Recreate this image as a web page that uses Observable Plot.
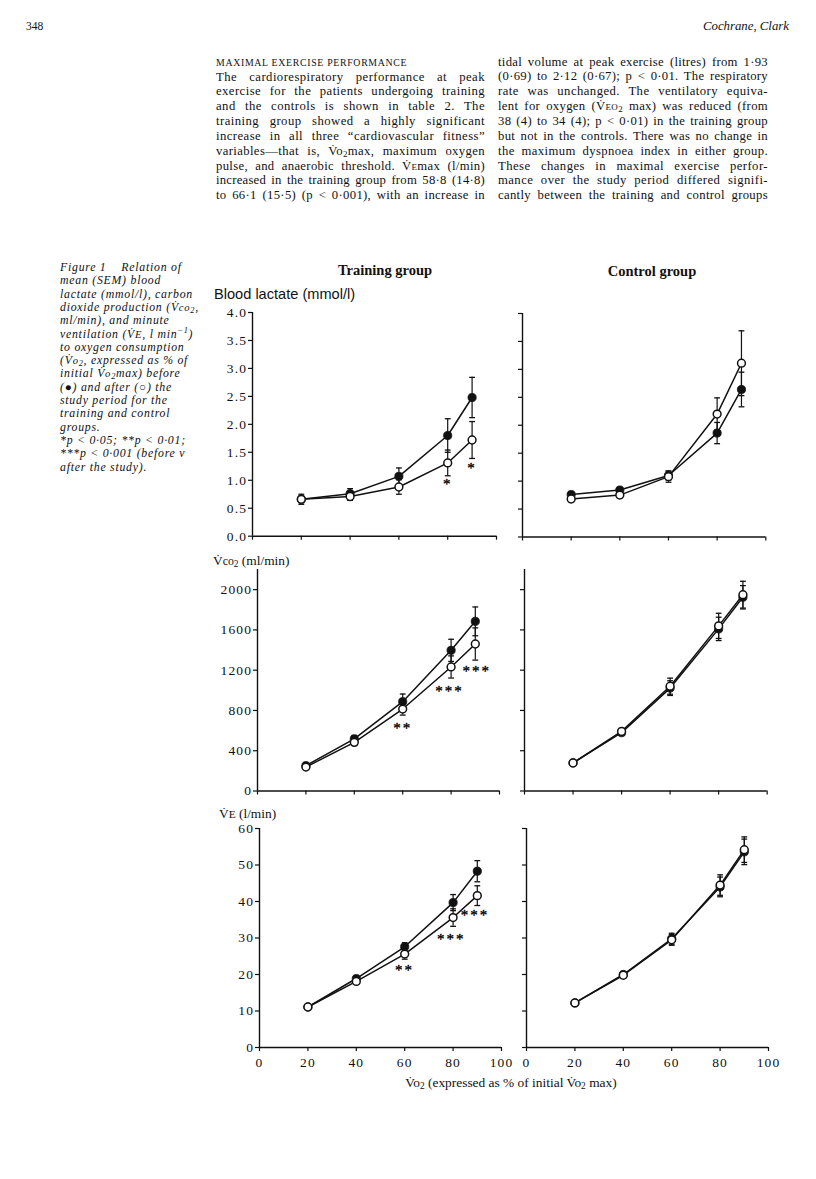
<!DOCTYPE html>
<html><head><meta charset="utf-8">
<script src="https://cdn.jsdelivr.net/npm/d3@7"></script>
<script src="https://cdn.jsdelivr.net/npm/@observablehq/plot@0.6"></script>
<style>
body{margin:0;background:#fff}
#page{position:relative;width:816px;height:1179px;background:#fff;overflow:hidden;font-family:"Liberation Serif","Times New Roman",serif;color:#111}
.abs{position:absolute;white-space:nowrap;line-height:1}
.line{position:absolute;white-space:nowrap;font-size:12.7px;line-height:1}
.sub{font-size:70%;vertical-align:-0.25em;line-height:0}
.cap{position:absolute;font-style:italic;font-size:11.8px;letter-spacing:0.75px;white-space:nowrap;line-height:1}
.sym{font-style:normal}
.sc{font-variant:small-caps}
svg.panel{position:absolute;overflow:visible}
svg.panel g[aria-label$="tick label"] text{letter-spacing:1.1px}
</style></head>
<body><div id="page"></div>
<script>
// ---------------- data ----------------
const xs = [20, 40, 60, 80, 90];
const xTicks = [0, 20, 40, 60, 80, 100];
const lacTicks = [0, 0.5, 1, 1.5, 2, 2.5, 3, 3.5, 4];
const vco2Ticks = [0, 400, 800, 1200, 1600, 2000];
const veTicks = [0, 10, 20, 30, 40, 50, 60];

// Blood lactate (mmol/l)
const lacTrainBefore = [0.66, 0.76, 1.07, 1.80, 2.48];
const lacTrainBeforeSem = [0.09, 0.09, 0.15, 0.30, 0.36];
const lacTrainAfter = [0.66, 0.71, 0.88, 1.31, 1.72];
const lacTrainAfterSem = [0.06, 0.07, 0.13, 0.23, 0.33];
const lacCtrlBefore = [0.76, 0.84, 1.10, 1.86, 2.64];
const lacCtrlBeforeSem = [0.05, 0.05, 0.08, 0.19, 0.31];
const lacCtrlAfter = [0.68, 0.75, 1.08, 2.20, 3.11];
const lacCtrlAfterSem = [0.05, 0.05, 0.10, 0.29, 0.58];
const lacTrainStars = [{x: 80, y: 1.0, t: "*"}, {x: 90, y: 1.29, t: "*"}];

// VCO2 (ml/min)
const vco2TrainBefore = [252, 517, 887, 1397, 1685];
const vco2TrainBeforeSem = [20, 35, 76, 110, 143];
const vco2TrainAfter = [238, 483, 814, 1232, 1460];
const vco2TrainAfterSem = [18, 30, 60, 110, 160];
const vco2CtrlBefore = [280, 579, 1022, 1610, 1924];
const vco2CtrlBeforeSem = [15, 25, 73, 116, 116];
const vco2CtrlAfter = [278, 592, 1041, 1640, 1950];
const vco2CtrlAfterSem = [15, 25, 80, 125, 133];
const vco2TrainStars = [{x: 60, y: 662, t: "**"}, {x: 79.3, y: 1033, t: "***"}, {x: 90.6, y: 1225, t: "***"}];

// VE (l/min)
const veTrainBefore = [11.1, 18.9, 27.6, 39.7, 48.3];
const veTrainBeforeSem = [0.4, 0.6, 1.1, 2.2, 2.9];
const veTrainAfter = [11.1, 18.1, 25.6, 35.6, 41.6];
const veTrainAfterSem = [0.4, 0.6, 1.4, 2.4, 2.7];
const veCtrlBefore = [12.2, 20.0, 29.8, 44.0, 53.6];
const veCtrlBeforeSem = [0.4, 0.8, 1.5, 2.7, 3.5];
const veCtrlAfter = [12.2, 19.8, 29.5, 44.5, 54.2];
const veCtrlAfterSem = [0.4, 0.8, 1.5, 2.8, 3.5];
const veTrainStars = [{x: 59.9, y: 22.4, t: "**"}, {x: 79.2, y: 30.9, t: "***"}, {x: 89.0, y: 37.3, t: "***"}];

// ---------------- text ----------------
const V = 'V&#775;';
const leftCol = [
  `The cardiorespiratory performance at peak`,
  `exercise for the patients undergoing training`,
  `and the controls is shown in table 2. The`,
  `training group showed a highly significant`,
  `increase in all three “cardiovascular fitness”`,
  `variables—that is, ${V}o<span class="sub">2</span>max, maximum oxygen`,
  `pulse, and anaerobic threshold. ${V}<span class="sc">e</span>max (l/min)`,
  `increased in the training group from 58·8 (14·8)`,
  `to 66·1 (15·5) (p &lt; 0·001), with an increase in`
];
const rightCol = [
  `tidal volume at peak exercise (litres) from 1·93`,
  `(0·69) to 2·12 (0·67); p &lt; 0·01. The respiratory`,
  `rate was unchanged. The ventilatory equiva-`,
  `lent for oxygen (${V}<span class="sc">eo</span><span class="sub">2</span> max) was reduced (from`,
  `38 (4) to 34 (4); p &lt; 0·01) in the training group`,
  `but not in the controls. There was no change in`,
  `the maximum dyspnoea index in either group.`,
  `These changes in maximal exercise perfor-`,
  `mance over the study period differed signifi-`,
  `cantly between the training and control groups`
];
const captionLines = [
  `Figure 1&nbsp;&nbsp;&nbsp; Relation of`,
  `mean (SEM) blood`,
  `lactate (mmol/l), carbon`,
  `dioxide production (${V}<span style="font-size:90%">co</span><span class="sub">2</span>,`,
  `ml/min), and minute`,
  `ventilation (${V}<span style="font-size:90%">E</span>, l min<sup style="font-size:70%;line-height:0">−1</sup>)`,
  `to oxygen consumption`,
  `(${V}<span style="font-size:90%">o</span><span class="sub">2</span>, expressed as % of`,
  `initial ${V}<span style="font-size:90%">o</span><span class="sub">2</span>max) before`,
  `(<span class="sym">●</span>) and after (<span class="sym">○</span>) the`,
  `study period for the`,
  `training and control`,
  `groups.`,
  `*p &lt; 0·05; **p &lt; 0·01;`,
  `***p &lt; 0·001 (before v`,
  `after the study).`
];

const page = document.getElementById('page');
function addDiv(html, cls, left, top, extra) {
  const d = document.createElement('div');
  d.className = cls; d.innerHTML = html;
  d.style.left = left + 'px'; d.style.top = top + 'px';
  if (extra) Object.assign(d.style, extra);
  page.appendChild(d); return d;
}
function justify(d, w) {
  const nat = d.getBoundingClientRect().width;
  const txt = d.textContent;
  const n = (txt.match(/ /g) || []).length;
  const extra = w - nat;
  if (extra > 0) {
    const ls = Math.min(0.45, extra * 0.45 / txt.length);
    d.style.letterSpacing = ls + 'px';
    const nat2 = d.getBoundingClientRect().width;
    if (n > 0) d.style.wordSpacing = ((w - nat2) / n) + 'px';
  } else if (n > 0) {
    d.style.wordSpacing = (extra / n) + 'px';
  }
}

// header
addDiv('348', 'abs', 26, 21, {fontSize: '11.5px'});
const hdr = addDiv('Cochrane, Clark', 'abs', 0, 20, {fontSize: '12.8px', fontStyle: 'italic'});
hdr.style.left = (789 - hdr.getBoundingClientRect().width) + 'px';

// body text
addDiv('MAXIMAL EXERCISE PERFORMANCE', 'abs', 216, 58, {fontSize: '9.8px', letterSpacing: '0.7px'});
leftCol.forEach((t, i) => { const d = addDiv(t, 'line', 216, 70.5 + i * 14.85); justify(d, 269); });
rightCol.forEach((t, i) => { const d = addDiv(t, 'line', 498, 55.6 + i * 14.85); justify(d, 270); });

// caption
captionLines.forEach((t, i) => addDiv(t, 'cap', 60, 262 + i * 13.3));

// figure headings and axis titles
const h1 = addDiv('Training group', 'abs', 0, 263, {fontSize: '14.5px', fontWeight: 'bold'});
h1.style.left = (385 - h1.getBoundingClientRect().width / 2) + 'px';
const h2 = addDiv('Control group', 'abs', 0, 263.5, {fontSize: '14.5px', fontWeight: 'bold'});
h2.style.left = (652 - h2.getBoundingClientRect().width / 2) + 'px';
addDiv('Blood lactate (mmol/l)', 'abs', 214, 287, {fontSize: '14.6px', fontFamily: '"Liberation Sans", Arial, sans-serif'});
addDiv(`${V}<span style="font-size:88%">co</span><span class="sub">2</span> (ml/min)`, 'abs', 213, 554, {fontSize: '13.4px'});
addDiv(`${V}<span style="font-size:85%">E</span> (l/min)`, 'abs', 219, 807, {fontSize: '13.4px'});
const xt = addDiv(`${V}o<span class="sub">2</span> (expressed as % of initial ${V}o<span class="sub">2</span> max)`, 'abs', 0, 1076, {fontSize: '13.4px'});
xt.style.left = (511 - xt.getBoundingClientRect().width / 2) + 'px';

// ---------------- panels ----------------
function rows(vals, sem) { return xs.map((x, i) => ({x, y: vals[i], e: sem[i]})); }
function panel(cfg) {
  const ML = 60, MR = 20, MT = 15, MB = 30;
  const W = cfg.x1 - cfg.x0, H = cfg.yb - cfg.yt;
  const before = rows(cfg.b, cfg.bs), after = rows(cfg.a, cfg.as);
  const capW = 1.2;
  const errMarks = (data) => [
    Plot.ruleX(data, {x: "x", y1: d => d.y - d.e, y2: d => d.y + d.e, stroke: "#111", strokeWidth: 1.2}),
    Plot.link(data, {x1: d => d.x - capW, x2: d => d.x + capW, y1: d => d.y + d.e, y2: d => d.y + d.e, stroke: "#111", strokeWidth: 1.3}),
    Plot.link(data, {x1: d => d.x - capW, x2: d => d.x + capW, y1: d => d.y - d.e, y2: d => d.y - d.e, stroke: "#111", strokeWidth: 1.3})
  ];
  const chart = Plot.plot({
    width: W + ML + MR, height: H + MT + MB,
    marginLeft: ML, marginRight: MR, marginTop: MT, marginBottom: MB,
    x: {domain: [0, 100]},
    y: {domain: [0, cfg.ymax]},
    style: {fontFamily: '"Liberation Serif", serif', fontSize: "13.5px", color: "#111", background: "transparent", overflow: "visible"},
    marks: [
      Plot.ruleX([0], {y1: 0, y2: cfg.ymax, stroke: "#111", strokeWidth: 1.4}),
      Plot.ruleY([0], {x1: 0, x2: 100, stroke: "#111", strokeWidth: 1.4}),
      Plot.axisY({ticks: cfg.yticks, tickSize: 4, tickPadding: 1.5, fontSize: 13.5, label: null, strokeWidth: 1.2,
        tickFormat: cfg.showY ? cfg.fmt : () => ""}),
      Plot.axisX({ticks: xTicks, tickSize: 4, tickPadding: 6, fontSize: 13.5, label: null, strokeWidth: 1.2,
        tickFormat: cfg.showX ? (d => String(d)) : () => ""}),
      Plot.line(before, {x: "x", y: "y", stroke: "#111", strokeWidth: 1.5}),
      Plot.line(after, {x: "x", y: "y", stroke: "#111", strokeWidth: 1.5}),
      ...errMarks(before),
      ...errMarks(after),
      Plot.dot(before, {x: "x", y: "y", r: 4.1, fill: "#111", stroke: "#111", strokeWidth: 0.8}),
      Plot.dot(after, {x: "x", y: "y", r: 3.9, fill: "white", stroke: "#111", strokeWidth: 1.5}),
      Plot.text(cfg.stars || [], {x: "x", y: "y", text: "t", fontSize: 15, dy: 4, fill: "black", stroke: "black", strokeWidth: 0.35})
    ]
  });
  chart.classList.add('panel');
  chart.querySelectorAll('g[aria-label="text"] text').forEach(t => t.style.letterSpacing = '2px');
  chart.style.left = (cfg.x0 - ML) + 'px';
  chart.style.top = (cfg.yt - MT) + 'px';
  page.appendChild(chart);
}
const f1 = d3.format(".1f"), f0 = d => String(d);
panel({x0: 252, x1: 496, yt: 312.3, yb: 536, ymax: 4, yticks: lacTicks, fmt: f1, showY: true, showX: false,
  b: lacTrainBefore, bs: lacTrainBeforeSem, a: lacTrainAfter, as: lacTrainAfterSem, stars: lacTrainStars});
panel({x0: 521.7, x1: 765, yt: 312.5, yb: 536, ymax: 4, yticks: lacTicks, fmt: f1, showY: false, showX: false,
  b: lacCtrlBefore, bs: lacCtrlBeforeSem, a: lacCtrlAfter, as: lacCtrlAfterSem});
panel({x0: 257.3, x1: 499.3, yt: 569.2, yb: 790.7, ymax: 2200, yticks: vco2Ticks, fmt: f0, showY: true, showX: false,
  b: vco2TrainBefore, bs: vco2TrainBeforeSem, a: vco2TrainAfter, as: vco2TrainAfterSem, stars: vco2TrainStars});
panel({x0: 524, x1: 766.7, yt: 569.2, yb: 790.7, ymax: 2200, yticks: vco2Ticks, fmt: f0, showY: false, showX: false,
  b: vco2CtrlBefore, bs: vco2CtrlBeforeSem, a: vco2CtrlAfter, as: vco2CtrlAfterSem});
panel({x0: 259, x1: 501, yt: 827.7, yb: 1046.7, ymax: 60, yticks: veTicks, fmt: f0, showY: true, showX: true,
  b: veTrainBefore, bs: veTrainBeforeSem, a: veTrainAfter, as: veTrainAfterSem, stars: veTrainStars});
panel({x0: 525.7, x1: 767.7, yt: 827.7, yb: 1046.7, ymax: 60, yticks: veTicks, fmt: f0, showY: false, showX: true,
  b: veCtrlBefore, bs: veCtrlBeforeSem, a: veCtrlAfter, as: veCtrlAfterSem});
</script>
</body></html>
